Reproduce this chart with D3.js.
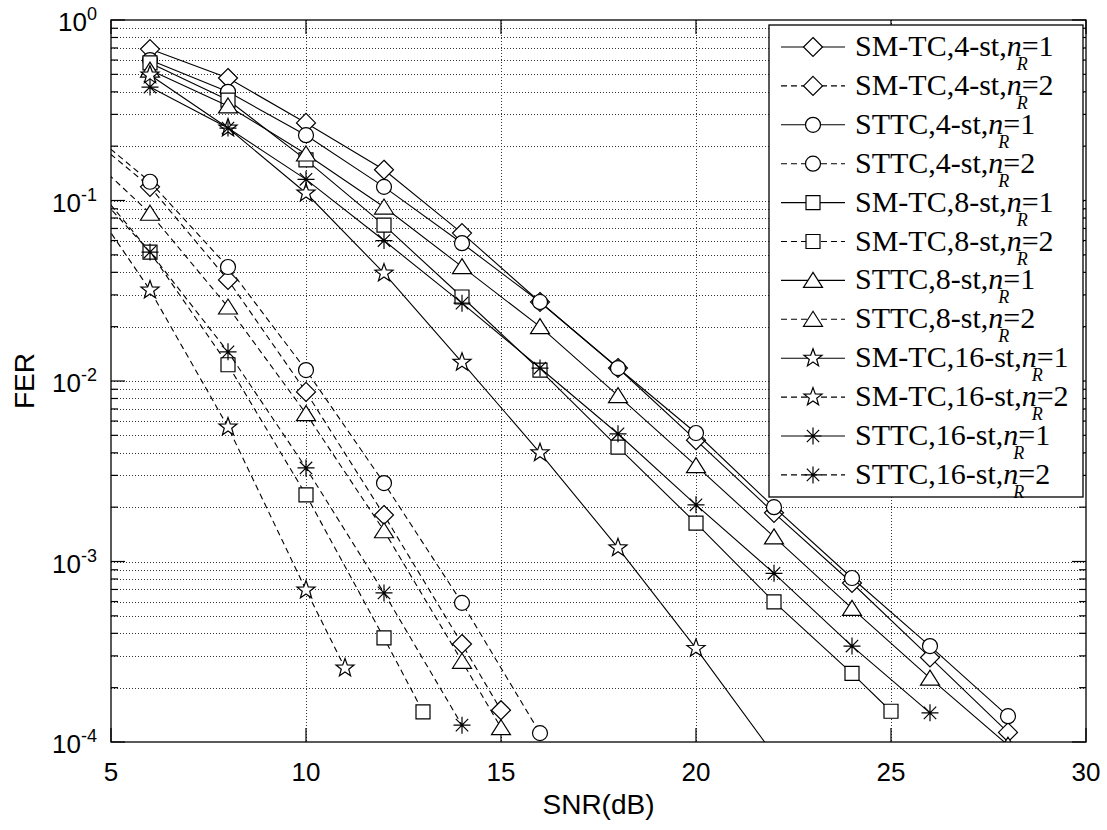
<!DOCTYPE html>
<html><head><meta charset="utf-8">
<script src="https://cdn.jsdelivr.net/npm/d3@7"></script>
<style>body{margin:0;background:#fff;} svg{display:block;}</style>
</head><body>
<svg id="chart" width="1107" height="830"></svg>
<script>
// ---- data ----
const labels = ["SM-TC,4-st,n_R=1","SM-TC,4-st,n_R=2","STTC,4-st,n_R=1","STTC,4-st,n_R=2",
  "SM-TC,8-st,n_R=1","SM-TC,8-st,n_R=2","STTC,8-st,n_R=1","STTC,8-st,n_R=2",
  "SM-TC,16-st,n_R=1","SM-TC,16-st,n_R=2","STTC,16-st,n_R=1","STTC,16-st,n_R=2"];
const markers = ["diamond","diamond","circle","circle","square","square","triangle","triangle","star","star","asterisk","asterisk"];
const dashed = [false,true,false,true,false,true,false,true,false,true,false,true];

const snrSolid = [6,8,10,12,14,16,18,20,22,24,26,28];
const smtc4_1 = [0.69,0.477,0.269,0.148,0.066,0.0274,0.0118,0.0047,0.00186,7.6e-4,2.94e-4,1.13e-4];
const sttc4_1 = [0.60,0.40,0.23,0.119,0.058,0.0274,0.0118,0.00515,0.002,8.1e-4,3.4e-4,1.39e-4];
const snrSm8_1 = [6,8,10,12,14,16,18,20,22,24,25];
const smtc8_1 = [0.578,0.36,0.168,0.073,0.0292,0.0115,0.0043,0.00163,5.97e-4,2.4e-4,1.48e-4];
const sttc8_1 = [0.528,0.334,0.181,0.092,0.043,0.02,0.0083,0.0034,0.00137,5.5e-4,2.26e-4,9.6e-5];
const snrSm16_1 = [6,8,10,12,14,16,18,20,22];
const smtc16_1 = [0.496,0.252,0.11,0.0396,0.0127,0.004,0.00119,3.3e-4,8.5e-5];
const snrSt16_1 = [6,8,10,12,14,16,18,20,22,24,26];
const sttc16_1 = [0.425,0.252,0.131,0.06,0.027,0.0118,0.0051,0.00206,8.6e-4,3.4e-4,1.45e-4];

const snrSm4_2 = [4,6,8,10,12,14,15];
const smtc4_2 = [0.272,0.119,0.0363,0.0087,0.00181,3.49e-4,1.5e-4];
const snrSt4_2 = [4,6,8,10,12,14,16];
const sttc4_2 = [0.29,0.127,0.0428,0.0115,0.00272,5.9e-4,1.12e-4];
const snrSm8_2 = [4,6,8,10,12,13];
const smtc8_2 = [0.172,0.0518,0.0123,0.00234,3.77e-4,1.47e-4];
const snrSt8_2 = [4,6,8,10,12,14,15];
const sttc8_2 = [0.216,0.085,0.0257,0.0066,0.00148,2.8e-4,1.2e-4];
const snrSm16_2 = [4,6,8,10,11];
const smtc16_2 = [0.137,0.0319,0.00556,6.95e-4,2.57e-4];
const snrSt16_2 = [4,6,8,10,12,14];
const sttc16_2 = [0.155,0.0518,0.0145,0.0033,6.7e-4,1.24e-4];

const xTicks = [5,10,15,20,25,30];
const yDecades = [-4,-3,-2,-1,0];

const seriesX = [snrSolid,snrSm4_2,snrSolid,snrSt4_2,snrSm8_1,snrSm8_2,snrSolid,snrSt8_2,snrSm16_1,snrSm16_2,snrSt16_1,snrSt16_2];
const seriesY = [smtc4_1,smtc4_2,sttc4_1,sttc4_2,smtc8_1,smtc8_2,sttc8_1,sttc8_2,smtc16_1,smtc16_2,sttc16_1,sttc16_2];

// ---- layout ----
const L=111, R=1086, T=20, B=742;
const svg = d3.select("#chart");
const x = d3.scaleLinear([5,30],[L,R]);
const y = d3.scaleLog([1e-4,1],[B,T]);

svg.append("defs").append("clipPath").attr("id","clip")
  .append("rect").attr("x",L).attr("y",T).attr("width",R-L).attr("height",B-T);

// grid
const minorVals = [];
for (let k=-4;k<=-1;k++) for (let m=1;m<=9;m++) minorVals.push(m*Math.pow(10,k));
const gridY = minorVals.filter(v=>v>1e-4*1.01);
const g = svg.append("g");
g.selectAll("line.hg").data(gridY).join("line")
  .attr("x1",L).attr("x2",R)
  .attr("y1",d=>Math.round(y(d))+0.5).attr("y2",d=>Math.round(y(d))+0.5)
  .attr("stroke","#333").attr("stroke-width",1).attr("stroke-dasharray","1,2")
  .attr("shape-rendering","crispEdges");
g.selectAll("line.vg").data(xTicks.filter(t=>t>5&&t<30)).join("line")
  .attr("y1",T).attr("y2",B)
  .attr("x1",d=>Math.round(x(d))+0.5).attr("x2",d=>Math.round(x(d))+0.5)
  .attr("stroke","#333").attr("stroke-width",1).attr("stroke-dasharray","1,2")
  .attr("shape-rendering","crispEdges");

// ticks
const tk = svg.append("g").attr("stroke","#000").attr("stroke-width",1.2);
xTicks.forEach(t=>{
  const px=x(t);
  tk.append("line").attr("x1",px).attr("x2",px).attr("y1",B).attr("y2",B-14);
  tk.append("line").attr("x1",px).attr("x2",px).attr("y1",T).attr("y2",T+14);
});
minorVals.concat([1]).forEach(v=>{
  const py=y(v);
  const major = Math.abs(Math.log10(v)-Math.round(Math.log10(v)))<1e-9;
  const len = major?14:7;
  tk.append("line").attr("x1",L).attr("x2",L+len).attr("y1",py).attr("y2",py);
  tk.append("line").attr("x1",R).attr("x2",R-len).attr("y1",py).attr("y2",py);
});

// markers
function markerPath(type){
  switch(type){
    case "diamond": {const r=9.5; return `M0,${-r}L${r},0L0,${r}L${-r},0Z`;}
    case "circle": return d3.symbol(d3.symbolCircle, Math.PI*7.5*7.5)();
    case "square": {const h=7; return `M${-h},${-h}H${h}V${h}H${-h}Z`;}
    case "triangle": return "M0,-8L9.5,7L-9.5,7Z";
    case "star": {
      let p=""; const ro=9.5, ri=3.9;
      for(let i=0;i<10;i++){const a=-Math.PI/2+i*Math.PI/5; const r=i%2?ri:ro;
        p+=(i?"L":"M")+(r*Math.cos(a)).toFixed(2)+","+(r*Math.sin(a)).toFixed(2);}
      return p+"Z";}
    case "asterisk": {const r=8.5, d=6.2;
      return `M${-r},0H${r}M0,${-r}V${r}M${-d},${-d}L${d},${d}M${-d},${d}L${d},${-d}`;}
  }
}

const plot = svg.append("g").attr("clip-path","url(#clip)");
const line = d3.line().x(d=>x(d[0])).y(d=>y(d[1]));
labels.forEach((lab,i)=>{
  const pts = seriesX[i].map((s,j)=>[s,seriesY[i][j]]);
  const sg = plot.append("g");
  sg.append("path").attr("d",line(pts)).attr("fill","none").attr("stroke","#000")
    .attr("stroke-width",1.1).attr("stroke-dasharray",dashed[i]?"6,4":null);
  sg.selectAll("path.m").data(pts).join("path")
    .attr("d",markerPath(markers[i]))
    .attr("transform",d=>`translate(${x(d[0])},${y(d[1])})`)
    .attr("fill",markers[i]==="asterisk"?"none":"#fff").attr("stroke","#000").attr("stroke-width",1.2);
});

// axes box
svg.append("rect").attr("x",L).attr("y",T).attr("width",R-L).attr("height",B-T)
  .attr("fill","none").attr("stroke","#000").attr("stroke-width",1.3);

// tick labels
const font = "Liberation Sans, Arial, Helvetica, sans-serif";
svg.selectAll("text.xt").data(xTicks).join("text")
  .attr("x",d=>x(d)).attr("y",781).attr("text-anchor","middle")
  .attr("font-family",font).attr("font-size",26).text(d=>d);
yDecades.forEach(k=>{
  const t = svg.append("text").attr("x",97).attr("y",y(Math.pow(10,k))+11)
    .attr("text-anchor","end").attr("font-family",font).attr("font-size",26);
  t.append("tspan").text("10");
  t.append("tspan").attr("dy",-11).attr("font-size",18).text(String(k));
});
svg.append("text").attr("x",(L+R)/2).attr("y",814).attr("text-anchor","middle")
  .attr("font-family",font).attr("font-size",28).text("SNR(dB)");
svg.append("text").attr("transform",`translate(34,${(T+B)/2}) rotate(-90)`)
  .attr("text-anchor","middle").attr("font-family",font).attr("font-size",28).text("FER");

// legend
const lg = svg.append("g");
lg.append("rect").attr("x",769).attr("y",25).attr("width",314).attr("height",472)
  .attr("fill","#fff").attr("stroke","#000").attr("stroke-width",1.3);
const serif = "Liberation Serif, Times New Roman, serif";
labels.forEach((lab,i)=>{
  const cy = 47 + i*38.9;
  lg.append("line").attr("x1",781).attr("x2",845).attr("y1",cy).attr("y2",cy)
    .attr("stroke","#000").attr("stroke-width",1.1).attr("stroke-dasharray",dashed[i]?"6,4":null);
  lg.append("path").attr("d",markerPath(markers[i])).attr("transform",`translate(813,${cy})`)
    .attr("fill",markers[i]==="asterisk"?"none":"#fff").attr("stroke","#000").attr("stroke-width",1.2);
  const m = lab.match(/^(.*)n_R=(\d)$/);
  const t = lg.append("text").attr("x",855).attr("y",cy+9).attr("font-family",serif).attr("font-size",30);
  t.append("tspan").text(m[1]);
  t.append("tspan").attr("font-style","italic").text("n");
  t.append("tspan").attr("font-style","italic").attr("font-size",18).attr("dx",-5).attr("dy",14).text("R");
  t.append("tspan").attr("dx",-6).attr("dy",-14).text("="+m[2]);
});
</script>
</body></html>
